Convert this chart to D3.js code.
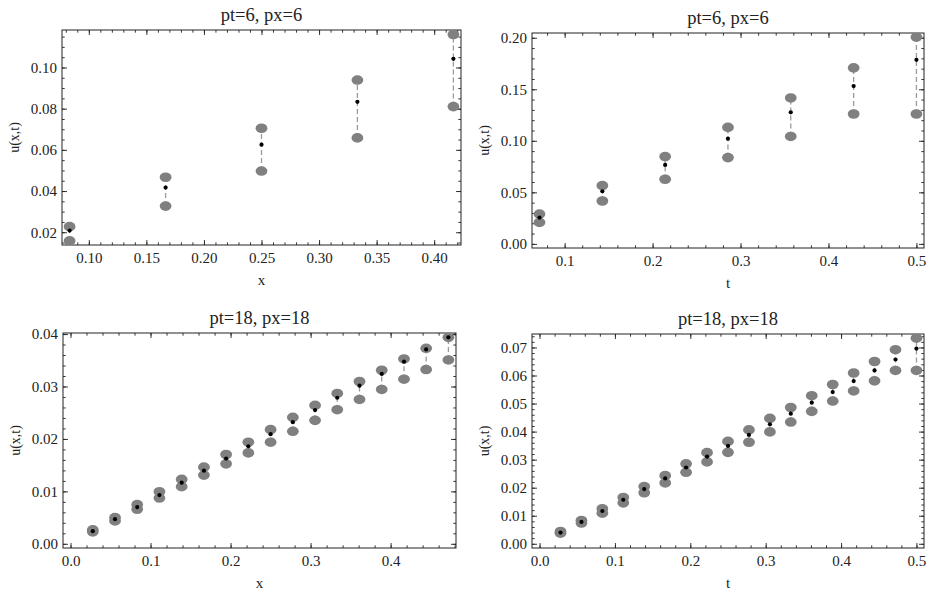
<!DOCTYPE html>
<html>
<head>
<meta charset="utf-8">
<script src="https://cdn.jsdelivr.net/npm/d3@7"></script>
<style>
  body { margin: 0; background: #fff; }
  svg text { font-family: "Liberation Serif", "DejaVu Serif", serif; fill: #222; }
</style>
</head>
<body>
<svg id="chart" width="932" height="592"></svg>
<script>
// panel 1: pt=6, px=6 vs x
const p1X = [0.0833, 0.1667, 0.25, 0.3333, 0.4167];
const p1Lo = [0.0158, 0.0327, 0.0497, 0.0658, 0.0810];
const p1Hi = [0.0227, 0.0467, 0.0705, 0.0939, 0.1160];
const p1Mid = [0.0208, 0.0417, 0.0625, 0.0833, 0.1042];
const p1XTicks = [0.10, 0.15, 0.20, 0.25, 0.30, 0.35, 0.40];
const p1YTicks = [0.02, 0.04, 0.06, 0.08, 0.10];

// panel 2: pt=6, px=6 vs t
const p2X = [0.0714, 0.1429, 0.2143, 0.2857, 0.3571, 0.4286, 0.5];
const p2Lo = [0.0208, 0.0416, 0.0627, 0.0837, 0.1042, 0.1260, 0.1260];
const p2Hi = [0.0289, 0.0565, 0.0847, 0.1130, 0.1416, 0.1708, 0.2006];
const p2Mid = [0.0255, 0.0510, 0.0766, 0.1021, 0.1276, 0.1531, 0.1786];
const p2XTicks = [0.1, 0.2, 0.3, 0.4, 0.5];
const p2YTicks = [0.00, 0.05, 0.10, 0.15, 0.20];

// panel 3: pt=18, px=18 vs x
const p3X = [0.0278, 0.0556, 0.0833, 0.1111, 0.1389, 0.1667, 0.1944, 0.2222, 0.25,
             0.2778, 0.3056, 0.3333, 0.3611, 0.3889, 0.4167, 0.4444, 0.4722];
const p3Lo = [0.00228, 0.00437, 0.00658, 0.00873, 0.01089, 0.01310, 0.01525, 0.01734, 0.01937,
              0.02146, 0.02354, 0.02557, 0.02753, 0.02943, 0.03139, 0.03323, 0.03506];
const p3Hi = [0.00266, 0.00500, 0.00747, 0.00994, 0.01228, 0.01462, 0.01703, 0.01937, 0.02177,
              0.02411, 0.02639, 0.02867, 0.03095, 0.03310, 0.03525, 0.03728, 0.03937];
const p3Mid = [0.00240, 0.00470, 0.00700, 0.00930, 0.01165, 0.01395, 0.01625, 0.01860, 0.02090,
               0.02320, 0.02550, 0.02785, 0.03015, 0.03240, 0.03473, 0.03706, 0.03937];
const p3XTicks = [0.0, 0.1, 0.2, 0.3, 0.4];
const p3YTicks = [0.00, 0.01, 0.02, 0.03, 0.04];

// panel 4: pt=18, px=18 vs t
const p4X = [0.0278, 0.0556, 0.0833, 0.1111, 0.1389, 0.1667, 0.1944, 0.2222, 0.25,
             0.2778, 0.3056, 0.3333, 0.3611, 0.3889, 0.4167, 0.4444, 0.4722, 0.5];
const p4Lo = [0.0038, 0.0074, 0.0109, 0.0146, 0.0182, 0.0217, 0.0255, 0.0292, 0.0326,
              0.0362, 0.0399, 0.0434, 0.0472, 0.0509, 0.0545, 0.0581, 0.0618, 0.0618];
const p4Hi = [0.0044, 0.0083, 0.0125, 0.0165, 0.0204, 0.0243, 0.0285, 0.0325, 0.0365,
              0.0406, 0.0447, 0.0486, 0.0528, 0.0568, 0.0609, 0.0650, 0.0692, 0.0733];
const p4Mid = [0.0040, 0.0078, 0.0117, 0.0157, 0.0195, 0.0233, 0.0272, 0.0311, 0.0349,
               0.0388, 0.0426, 0.0464, 0.0503, 0.0541, 0.0580, 0.0618, 0.0657, 0.0696];
const p4XTicks = [0.0, 0.1, 0.2, 0.3, 0.4, 0.5];
const p4YTicks = [0.00, 0.01, 0.02, 0.03, 0.04, 0.05, 0.06, 0.07];

const panels = [
  { title: "pt=6, px=6", xLabel: "x", x: p1X, lo: p1Lo, hi: p1Hi, mid: p1Mid,
    xTicks: p1XTicks, yTicks: p1YTicks, xFmt: ".2f", yFmt: ".2f", xMinor: 0.01, yMinor: 0.005,
    xDom: [0.0767, 0.4233], yDom: [0.0138, 0.1182], box: [62, 30, 461, 245] },
  { title: "pt=6, px=6", xLabel: "t", x: p2X, lo: p2Lo, hi: p2Hi, mid: p2Mid,
    xTicks: p2XTicks, yTicks: p2YTicks, xFmt: ".1f", yFmt: ".2f", xMinor: 0.02, yMinor: 0.01,
    xDom: [0.0629, 0.5086], yDom: [-0.004, 0.2046], box: [532, 33, 924, 248] },
  { title: "pt=18, px=18", xLabel: "x", x: p3X, lo: p3Lo, hi: p3Hi, mid: p3Mid,
    xTicks: p3XTicks, yTicks: p3YTicks, xFmt: ".1f", yFmt: ".2f", xMinor: 0.02, yMinor: 0.002,
    xDom: [-0.0094, 0.4817], yDom: [-0.0008, 0.0402], box: [63, 333, 456, 548] },
  { title: "pt=18, px=18", xLabel: "t", x: p4X, lo: p4Lo, hi: p4Hi, mid: p4Mid,
    xTicks: p4XTicks, yTicks: p4YTicks, xFmt: ".1f", yFmt: ".2f", xMinor: 0.02, yMinor: 0.002,
    xDom: [-0.01, 0.51], yDom: [-0.0015, 0.0748], box: [532, 334, 924, 548] }
];

const FONT = "Liberation Serif, DejaVu Serif, serif";
const svg = d3.select("#chart");

function minorTicks(dom, step) {
  const a = Math.ceil(dom[0] / step - 1e-9), b = Math.floor(dom[1] / step + 1e-9);
  return d3.range(a, b + 1).map(i => +(i * step).toFixed(6));
}

function strip(g) {
  g.select(".domain").remove();
  g.selectAll(".tick line").attr("stroke", "#222").attr("stroke-width", 0.9);
  g.attr("font-family", FONT);
  g.selectAll("text").attr("font-size", 15).attr("fill", "#222");
}

panels.forEach(p => {
  const [x0, y0, x1, y1] = p.box;
  const w = x1 - x0, h = y1 - y0;
  const x = d3.scaleLinear().domain(p.xDom).range([0, w]);
  const y = d3.scaleLinear().domain(p.yDom).range([h, 0]);
  const g = svg.append("g").attr("transform", `translate(${x0},${y0})`);

  const xMin = minorTicks(p.xDom, p.xMinor), yMin = minorTicks(p.yDom, p.yMinor);

  // minor ticks on all sides
  g.append("g").attr("transform", `translate(0,${h})`)
    .call(d3.axisBottom(x).tickValues(xMin).tickSize(-2.7).tickFormat("")).call(strip);
  g.append("g").call(d3.axisTop(x).tickValues(xMin).tickSize(-2.7).tickFormat("")).call(strip);
  g.append("g").call(d3.axisLeft(y).tickValues(yMin).tickSize(-2.7).tickFormat("")).call(strip);
  g.append("g").attr("transform", `translate(${w},0)`)
    .call(d3.axisRight(y).tickValues(yMin).tickSize(-2.7).tickFormat("")).call(strip);

  // major ticks, labelled on bottom and left only
  g.append("g").attr("transform", `translate(0,${h})`)
    .call(d3.axisBottom(x).tickValues(p.xTicks).tickSize(-5).tickPadding(7).tickFormat(d3.format(p.xFmt)))
    .call(strip);
  g.append("g").call(d3.axisTop(x).tickValues(p.xTicks).tickSize(-5).tickFormat("")).call(strip);
  g.append("g")
    .call(d3.axisLeft(y).tickValues(p.yTicks).tickSize(-5).tickPadding(5).tickFormat(d3.format(p.yFmt)))
    .call(strip);
  g.append("g").attr("transform", `translate(${w},0)`)
    .call(d3.axisRight(y).tickValues(p.yTicks).tickSize(-5).tickFormat("")).call(strip);

  // frame
  g.append("rect").attr("width", w).attr("height", h)
    .attr("fill", "none").attr("stroke", "#222").attr("stroke-width", 1);

  const clipId = "clip" + x0 + "_" + y0;
  g.append("clipPath").attr("id", clipId).append("rect").attr("width", w).attr("height", h);
  const plot = g.append("g").attr("clip-path", `url(#${clipId})`);

  const idx = d3.range(p.x.length);
  plot.selectAll("line.bar").data(idx).enter().append("line")
    .attr("x1", i => x(p.x[i])).attr("x2", i => x(p.x[i]))
    .attr("y1", i => y(p.lo[i])).attr("y2", i => y(p.hi[i]))
    .attr("stroke", "#9a9a9a").attr("stroke-width", 1.3).attr("stroke-dasharray", "5,3");
  plot.selectAll("ellipse.lo").data(idx).enter().append("ellipse")
    .attr("cx", i => x(p.x[i])).attr("cy", i => y(p.lo[i]))
    .attr("rx", 5.9).attr("ry", 4.8).attr("fill", "#808080");
  plot.selectAll("ellipse.hi").data(idx).enter().append("ellipse")
    .attr("cx", i => x(p.x[i])).attr("cy", i => y(p.hi[i]))
    .attr("rx", 5.9).attr("ry", 4.8).attr("fill", "#808080");
  plot.selectAll("circle.mid").data(idx).enter().append("circle")
    .attr("cx", i => x(p.x[i])).attr("cy", i => y(p.mid[i]))
    .attr("r", 2.1).attr("fill", "#000");

  // texts
  g.append("text").attr("x", w / 2).attr("y", -9).attr("text-anchor", "middle")
    .attr("font-family", FONT).attr("font-size", 18.5).text(p.title);
  g.append("text").attr("x", w / 2).attr("y", h + 40).attr("text-anchor", "middle")
    .attr("font-family", FONT).attr("font-size", 15).text(p.xLabel);
  g.append("text").attr("transform", `translate(-43,${h / 2}) rotate(-90)`)
    .attr("text-anchor", "middle").attr("font-family", FONT).attr("font-size", 14).text("u(x,t)");
});
</script>
</body>
</html>
